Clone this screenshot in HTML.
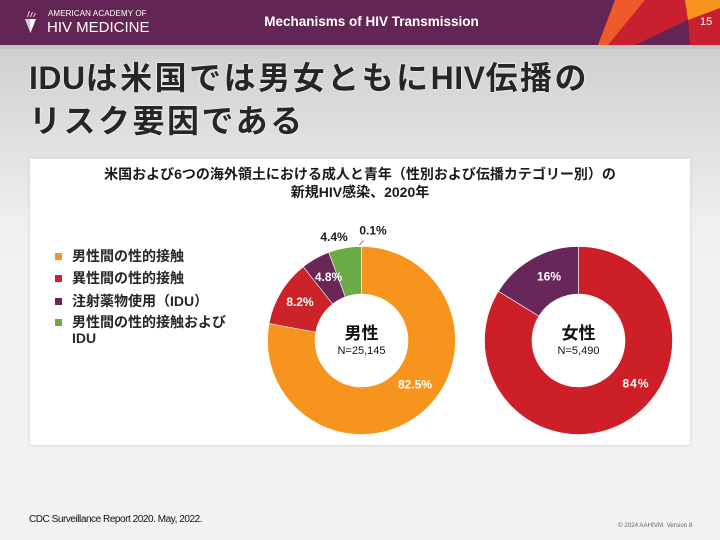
<!DOCTYPE html>
<html><head><meta charset="utf-8">
<style>
*{margin:0;padding:0;box-sizing:border-box}
html,body{width:720px;height:540px;overflow:hidden}
body{position:relative;background:linear-gradient(to bottom,#d0d0d0 0px,#d0d0d0 49px,#e2e2e2 150px,#f0f0f0 230px,#f2f2f2 300px,#f2f2f2 540px);font-family:"Liberation Sans","Noto Sans CJK JP",sans-serif}
.abs{position:absolute;white-space:nowrap}
#hdr{position:absolute;left:0;top:0;width:720px;height:45px;background:#632553}
#band{position:absolute;left:0;top:45px;width:720px;height:4px;background:#c4c4c4}
.title{font-family:"Liberation Sans","Noto Sans CJK JP",sans-serif;font-weight:bold;font-size:32px;color:#262626;letter-spacing:2.5px;text-shadow:0 0 2px #fff,0 0 1px #fff;line-height:1}
.title .l{letter-spacing:0.5px}
#box{position:absolute;left:29px;top:158px;width:662px;height:288px;background:#fff;border:1px solid #e2e2e2;box-shadow:0 0 3px rgba(0,0,0,0.08)}
.ct{font-weight:bold;font-size:14px;color:#1a1a1a;line-height:1}
.lg{font-weight:bold;font-size:14px;color:#262626;line-height:1}
.sq{position:absolute;width:7px;height:7px}
</style></head><body>
<div id="hdr"></div>
<div id="band"></div>
<svg class="abs" style="left:0;top:0" width="720" height="49" viewBox="0 0 720 49">
  <polygon points="645,0 720,0 720,45 608,45" fill="#c8202f"/>
  <polygon points="615,0 645,0 608,45 598,45" fill="#ef5a2a"/>
  <polygon points="685,0 720,0 720,8 688,20" fill="#f7941d"/>
  <polygon points="635,45 688,20 690,45" fill="#632553"/>
  <polygon points="25,19 36,19 30.5,33" fill="#fff"/>
  <polygon points="25,19 30.5,19 30.5,33" fill="#d9c9d3"/>
  <polygon points="27,17 29,11 30,11 28,17" fill="#e8dce4"/>
  <polygon points="30,17 32,12 33,12 31,17" fill="#e8dce4"/>
  <polygon points="33,17 35,13 36,13 34,17" fill="#e8dce4"/>
</svg>
<div class="abs" style="left:48px;top:10px;font-size:8px;color:#fff;line-height:1;letter-spacing:0.1px">AMERICAN ACADEMY OF</div>
<div class="abs" style="left:47px;top:20px;font-size:15px;color:#fff;line-height:1;letter-spacing:0px">HIV MEDICINE</div>
<div class="abs" style="left:263px;top:15px;font-size:13.5px;font-weight:bold;color:#fff;line-height:1;width:217px;text-align:center">Mechanisms of HIV Transmission</div>
<div class="abs" style="left:700px;top:17px;font-size:11px;color:#fff;line-height:1">15</div>

<div class="abs title" style="left:29px;top:62px"><span class="l">IDU</span>は米国では男女ともに<span class="l">HIV</span>伝播の</div>
<div class="abs title" style="left:29px;top:105px">リスク要因である</div>

<div id="box"></div>
<div class="abs ct" style="left:0;width:720px;text-align:center;top:167px">米国および6つの海外領土における成人と青年（性別および伝播カテゴリー別）の</div>
<div class="abs ct" style="left:0;width:720px;text-align:center;top:185px">新規HIV感染、2020年</div>

<div class="sq" style="left:55px;top:253px;background:#f7941d"></div>
<div class="sq" style="left:55px;top:275px;background:#cc2229"></div>
<div class="sq" style="left:55px;top:298px;background:#6b2658"></div>
<div class="sq" style="left:55px;top:319px;background:#6aab45"></div>
<div class="abs lg" style="left:72px;top:249px">男性間の性的接触</div>
<div class="abs lg" style="left:72px;top:271px">異性間の性的接触</div>
<div class="abs lg" style="left:72px;top:294px">注射薬物使用（IDU）</div>
<div class="abs lg" style="left:72px;top:315px">男性間の性的接触および</div>
<div class="abs lg" style="left:72px;top:331px">IDU</div>

<svg class="abs" style="left:0;top:0" width="720" height="540" viewBox="0 0 720 540">
  <g stroke="#fff" stroke-width="0.6">
    <path d="M361.5,246.5 A94,94 0 1 1 269.04,323.53 L315.76,332.11 A46.5,46.5 0 1 0 361.5,294 Z" fill="#f7941d"/>
    <path d="M269.04,323.53 A94,94 0 0 1 303.24,266.73 L332.68,304.01 A46.5,46.5 0 0 0 315.76,332.11 Z" fill="#cc2229"/>
    <path d="M303.24,266.73 A94,94 0 0 1 328.73,252.39 L345.29,296.92 A46.5,46.5 0 0 0 332.68,304.01 Z" fill="#6b2658"/>
    <path d="M328.73,252.39 A94,94 0 0 1 361.5,246.5 L361.5,294 A46.5,46.5 0 0 0 345.29,296.92 Z" fill="#6aab45"/>
    <path d="M578.5,246.5 A94,94 0 1 1 498.44,291.24 L538.9,316.13 A46.5,46.5 0 1 0 578.5,294 Z" fill="#cc1f27"/>
    <path d="M498.44,291.24 A94,94 0 0 1 578.5,246.5 L578.5,294 A46.5,46.5 0 0 0 538.9,316.13 Z" fill="#68275a"/>
  </g>
  <line x1="359.3" y1="245" x2="363.5" y2="240.5" stroke="#555" stroke-width="0.8"/>
  <g font-family="Liberation Sans, sans-serif" font-weight="bold" font-size="12" text-anchor="middle">
    <text x="334" y="241" fill="#1a1a1a">4.4%</text>
    <text x="373" y="234.5" fill="#1a1a1a">0.1%</text>
    <text x="328.5" y="281" fill="#fff">4.8%</text>
    <text x="300" y="306" fill="#fff">8.2%</text>
    <text x="415" y="388.5" fill="#fff">82.5%</text>
    <text x="549" y="280.5" fill="#fff">16%</text>
    <text x="636" y="387.5" fill="#fff" letter-spacing="1">84%</text>
  </g>
  <g font-family="Liberation Sans, Noto Sans CJK JP, sans-serif" text-anchor="middle" fill="#111">
    <text x="361.5" y="339" font-size="17" font-weight="bold">男性</text>
    <text x="361.5" y="354" font-size="11">N=25,145</text>
    <text x="578.5" y="339" font-size="17" font-weight="bold">女性</text>
    <text x="578.5" y="354" font-size="11">N=5,490</text>
  </g>
</svg>

<div class="abs" style="left:29px;top:515px;font-size:10px;color:#111;line-height:1;letter-spacing:-0.45px">CDC Surveillance Report 2020. May, 2022.</div>
<div class="abs" style="left:618px;top:523px;font-size:6.2px;color:#666;line-height:1">© 2024 AAHIVM. Version 8</div>
</body></html>
